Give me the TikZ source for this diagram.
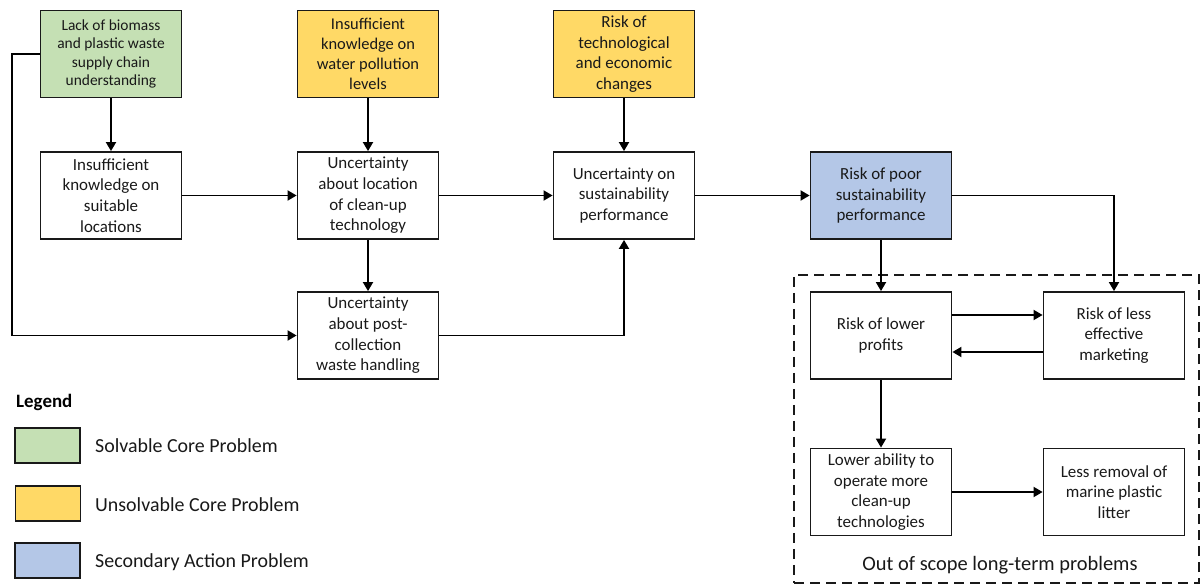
\documentclass[tikz,border=0pt]{standalone}
\usepackage{fontspec}
\setmainfont{Carlito}
\usetikzlibrary{arrows.meta}
\definecolor{solvgreen}{HTML}{C5E0B4}
\definecolor{unsolvyellow}{HTML}{FFD966}
\definecolor{secblue}{HTML}{B4C7E7}
\tikzset{
  prob/.style={draw=black!90, line width=1.8bp, minimum width=141bp, minimum height=87bp,
    inner sep=2bp, align=center, text=black!90, font=\fontsize{17}{20.7}\selectfont},
  arr/.style={line width=1.8bp, -{Triangle[length=9bp,width=10bp]}},
  legbox/.style={draw=black!90, line width=1.8bp, minimum width=65bp, minimum height=35bp, inner sep=0pt},
  legtext/.style={anchor=west, text=black!90, font=\fontsize{20}{24}\selectfont, inner sep=0pt}
}
\begin{document}
\begin{tikzpicture}[x=1bp,y=-1bp]
\useasboundingbox (0,0) rectangle (1201,584);

% top row: core problems
\node[prob, fill=solvgreen, font=\fontsize{15.5}{18.7}\selectfont] (green) at (111,54)
  {Lack of biomass\\and plastic waste\\supply chain\\understanding};
\node[prob, fill=unsolvyellow, font=\fontsize{16.5}{20}\selectfont] (ya) at (368,54)
  {Insufficient\\knowledge on\\water pollution\\levels};
\node[prob, fill=unsolvyellow] (yb) at (624,54)
  {Risk of\\technological\\and economic\\changes};

% middle row
\node[prob] (suit) at (111,195.5) {Insufficient\\knowledge on\\suitable\\locations};
\node[prob] (loc) at (368,195.5) {Uncertainty\\about location\\of clean-up\\technology};
\node[prob] (sust) at (624,195.5) {Uncertainty on\\sustainability\\performance};
\node[prob, fill=secblue] (poor) at (881,195.5) {Risk of poor\\sustainability\\performance};

% lower rows
\node[prob] (post) at (368,335.5) {Uncertainty\\about post-\\collection\\waste handling};
\node[prob] (prof) at (881,335.5) {Risk of lower\\profits};
\node[prob] (mkt) at (1114,335.5) {Risk of less\\effective\\marketing};
\node[prob] (abil) at (881,492) {Lower ability to\\operate more\\clean-up\\technologies};
\node[prob] (rem) at (1114,492) {Less removal of\\marine plastic\\litter};

% out-of-scope frame
\node[draw=black!90, line width=2.4bp, dash pattern=on 10bp off 6bp,
  minimum width=405bp, minimum height=308bp, inner sep=0pt] (scope) at (996.5,429) {};
\node[font=\fontsize{20.5}{24}\selectfont, text=black!90, inner sep=0pt] (scopelbl) at (1000,565)
  {Out of scope long-term problems};

% connectors
\draw[arr] (green) -- (suit);
\draw[arr] (ya) -- (loc);
\draw[arr] (yb) -- (sust);
\draw[arr] (suit) -- (loc);
\draw[arr] (loc) -- (sust);
\draw[arr] (sust) -- (poor);
\draw[arr] (loc) -- (post);
\draw[arr] (post.east) -| (sust.south);
\coordinate (gbend) at (12,54);
\draw[arr] (green.west) -- (gbend) |- (post.west);
\draw[arr] (poor) -- (prof);
\draw[arr] (poor.east) -| (mkt.north);
\draw[arr] ([yshift=20.5bp]prof.east) -- ([yshift=20.5bp]mkt.west);
\draw[arr] ([yshift=-16.5bp]mkt.west) -- ([yshift=-16.5bp]prof.east);
\draw[arr] (prof) -- (abil);
\draw[arr] (abil) -- (rem);

% legend
\node[anchor=west, font=\bfseries\fontsize{19}{23}\selectfont, inner sep=0pt] (legtitle) at (16,402) {Legend};
\node[legbox, fill=solvgreen] (lg) at (47.5,445.5) {};
\node[legbox, fill=unsolvyellow] (ly) at (48,503.5) {};
\node[legbox, fill=secblue] (lb) at (47.5,560.5) {};
\node[legtext] (lgt) at (95,446) {Solvable Core Problem};
\node[legtext] (lyt) at (95,505) {Unsolvable Core Problem};
\node[legtext] (lbt) at (95,562) {Secondary Action Problem};
\end{tikzpicture}
\end{document}
